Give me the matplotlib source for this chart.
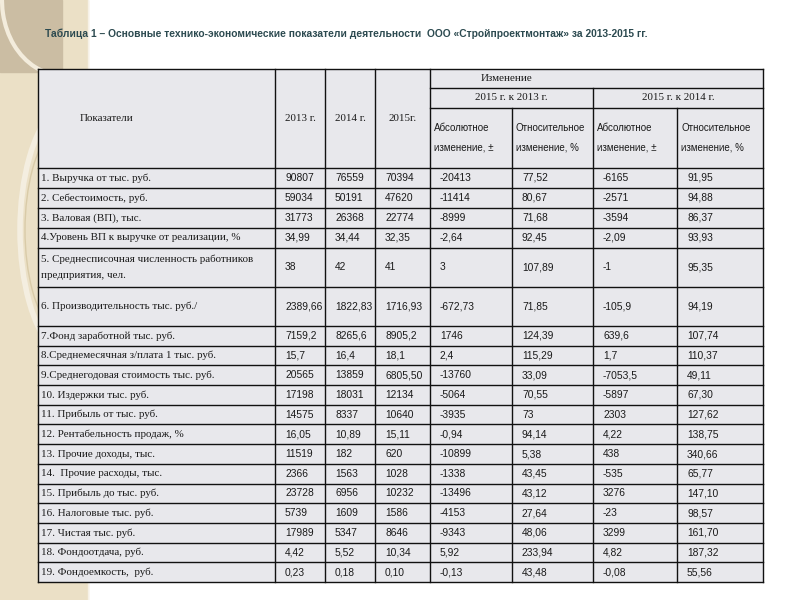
import matplotlib
matplotlib.use('Agg')
import matplotlib.pyplot as plt
from matplotlib import font_manager
from matplotlib.patches import Rectangle, Arc


def pick_font(names):
    for n in names:
        try:
            font_manager.findfont(n, fallback_to_default=False)
            return n
        except Exception:
            pass
    return 'DejaVu Sans'


num_font = pick_font(['Liberation Sans Narrow', 'Liberation Sans'])
lab_font = pick_font(['Liberation Serif', 'DejaVu Serif'])

title = 'Таблица 1 – Основные технико-экономические показатели деятельности  ООО «Стройпроектмонтаж» за 2013-2015 гг.'

labels = [
    '1. Выручка от тыс. руб.',
    '2. Себестоимость, руб.',
    '3. Валовая (ВП), тыс.',
    '4.Уровень ВП к выручке от реализации, %',
    '5. Среднесписочная численность работников\nпредприятия, чел.',
    '6. Производительность тыс. руб./',
    '7.Фонд заработной тыс. руб.',
    '8.Среднемесячная з/плата 1 тыс. руб.',
    '9.Среднегодовая стоимость тыс. руб.',
    '10. Издержки тыс. руб.',
    '11. Прибыль от тыс. руб.',
    '12. Рентабельность продаж, %',
    '13. Прочие доходы, тыс.',
    '14.  Прочие расходы, тыс.',
    '15. Прибыль до тыс. руб.',
    '16. Налоговые тыс. руб.',
    '17. Чистая тыс. руб.',
    '18. Фондоотдача, руб.',
    '19. Фондоемкость,  руб.',
]
y2013 = ['90807', '59034', '31773', '34,99', '38', '2389,66', '7159,2', '15,7', '20565', '17198',
         '14575', '16,05', '11519', '2366', '23728', '5739', '17989', '4,42', '0,23']
y2014 = ['76559', '50191', '26368', '34,44', '42', '1822,83', '8265,6', '16,4', '13859', '18031',
         '8337', '10,89', '182', '1563', '6956', '1609', '5347', '5,52', '0,18']
y2015 = ['70394', '47620', '22774', '32,35', '41', '1716,93', '8905,2', '18,1', '6805,50', '12134',
         '10640', '15,11', '620', '1028', '10232', '1586', '8646', '10,34', '0,10']
abs_vs13 = ['-20413', '-11414', '-8999', '-2,64', '3', '-672,73', '1746', '2,4', '-13760', '-5064',
            '-3935', '-0,94', '-10899', '-1338', '-13496', '-4153', '-9343', '5,92', '-0,13']
rel_vs13 = ['77,52', '80,67', '71,68', '92,45', '107,89', '71,85', '124,39', '115,29', '33,09', '70,55',
            '73', '94,14', '5,38', '43,45', '43,12', '27,64', '48,06', '233,94', '43,48']
abs_vs14 = ['-6165', '-2571', '-3594', '-2,09', '-1', '-105,9', '639,6', '1,7', '-7053,5', '-5897',
            '2303', '4,22', '438', '-535', '3276', '-23', '3299', '4,82', '-0,08']
rel_vs14 = ['91,95', '94,88', '86,37', '93,93', '95,35', '94,19', '107,74', '110,37', '49,11', '67,30',
            '127,62', '138,75', '340,66', '65,77', '147,10', '98,57', '161,70', '187,32', '55,56']

# layout (pixels)
col_x = [38, 275, 325, 375, 430, 512, 593, 677, 763]
top, h1, h2, head_bot = 69, 88, 108, 168
row_h = [20, 20, 20, 20, 39, 39] + [19.7] * 13

fill = '#e8e8ec'
lc = '#111111'

fig = plt.figure(figsize=(8, 6), dpi=100)
ax = fig.add_axes([0, 0, 1, 1])
ax.set_xlim(0, 800)
ax.set_ylim(600, 0)
ax.axis('off')

# decorative strip on the left
ax.add_patch(Rectangle((0, 0), 88, 600, color='#ebe0c6', zorder=0))
ax.add_patch(Rectangle((0, 0), 62, 72, color='#cbbda3', zorder=0))
ax.add_patch(Arc((62, 0), 120, 150, theta1=90, theta2=200, color='#f3ecdc', lw=3, zorder=1))
ax.add_patch(Arc((75, 230), 110, 260, theta1=100, theta2=260, color='#f4eee0', lw=4, zorder=1))
ax.add_patch(Arc((70, 230), 90, 220, theta1=100, theta2=260, color='#d9cba8', lw=1, zorder=1))
ax.plot([88, 88], [0, 600], color='#f6f1e6', lw=1, zorder=1)

ax.text(45, 34, title, fontsize=7.35, fontweight='bold', color='#2c4a50',
        family=[num_font, 'DejaVu Sans'], va='center', ha='left')

# rows positions
row_top = [head_bot]
for h in row_h:
    row_top.append(row_top[-1] + h)
bottom = row_top[-1]

ax.add_patch(Rectangle((col_x[0], top), col_x[-1] - col_x[0], bottom - top,
                       facecolor=fill, edgecolor='none', zorder=2))

# grid lines
lw = 1.0
ax.plot([col_x[0], col_x[-1]], [top, top], color=lc, lw=lw, zorder=3)
ax.plot([col_x[4], col_x[-1]], [h1, h1], color=lc, lw=lw, zorder=3)
ax.plot([col_x[4], col_x[-1]], [h2, h2], color=lc, lw=lw, zorder=3)
for y in row_top:
    ax.plot([col_x[0], col_x[-1]], [y, y], color=lc, lw=lw, zorder=3)
for i, x in enumerate(col_x):
    if i in (5, 7):
        y0 = h2
    elif i == 6:
        y0 = h1
    else:
        y0 = top
    ax.plot([x, x], [y0, bottom], color=lc, lw=lw, zorder=3)

tk = dict(fontsize=7.4, color='#1a1a1a', zorder=4, va='center')
hk = dict(fontsize=7.9, color='#1a1a1a', zorder=4, va='center', family=lab_font)

# header
ax.text(80, (top + head_bot) / 2, 'Показатели', ha='left', **hk)
for i, t in enumerate(['2013 г.', '2014 г.', '2015г.']):
    ax.text((col_x[i + 1] + col_x[i + 2]) / 2, (top + head_bot) / 2, t, ha='center', **hk)
ax.text(481, (top + h1) / 2, 'Изменение', ha='left', **hk)
ax.text((col_x[4] + col_x[6]) / 2, (h1 + h2) / 2, '2015 г. к 2013 г.', ha='center', **hk)
ax.text((col_x[6] + col_x[8]) / 2, (h1 + h2) / 2, '2015 г. к 2014 г.', ha='center', **hk)
sub = ['Абсолютное\nизменение, ±', 'Относительное\nизменение, %',
       'Абсолютное\nизменение, ±', 'Относительное\nизменение, %']
for i, t in enumerate(sub):
    ax.text(col_x[4 + i] + 4, (h2 + head_bot) / 2, t, ha='left', linespacing=2.2,
            fontsize=7.0, color='#1a1a1a', zorder=4, va='center', family=num_font)

# body
cols = [y2013, y2014, y2015, abs_vs13, rel_vs13, abs_vs14, rel_vs14]
for r in range(len(labels)):
    yc = (row_top[r] + row_top[r + 1]) / 2
    ax.text(col_x[0] + 3, yc, labels[r], ha='left', linespacing=2.0, family=lab_font,
            fontsize=7.9, color='#1a1a1a', zorder=4, va='center')
    for c, vals in enumerate(cols):
        ax.text(col_x[c + 1] + 10, yc, vals[r], ha='left', family=num_font, **tk)

fig.savefig('out.png', dpi=100, facecolor='white')
